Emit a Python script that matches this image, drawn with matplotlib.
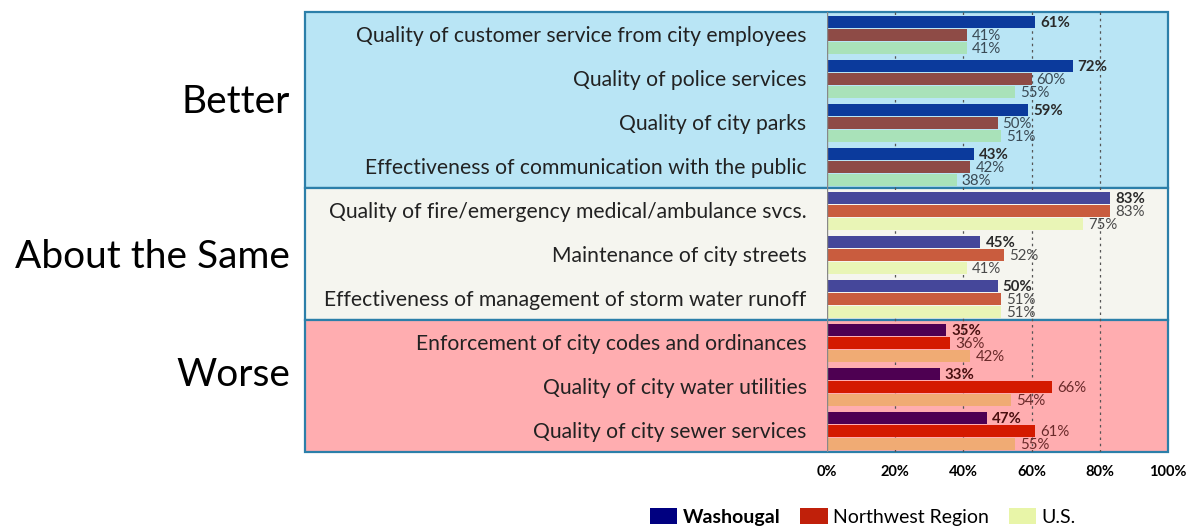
import matplotlib.pyplot as plt
from matplotlib.patches import Rectangle, Patch

plt.rcParams['font.family'] = ['Lato', 'DejaVu Sans']

# data
categories = [
    'Quality of customer service from city employees',
    'Quality of police services',
    'Quality of city parks',
    'Effectiveness of communication with the public',
    'Quality of fire/emergency medical/ambulance svcs.',
    'Maintenance of city streets',
    'Effectiveness of management of storm water runoff',
    'Enforcement of city codes and ordinances',
    'Quality of city water utilities',
    'Quality of city sewer services',
]
washougal = [61, 72, 59, 43, 83, 45, 50, 35, 33, 47]
northwest = [41, 60, 50, 42, 83, 52, 51, 36, 66, 61]
us_vals   = [41, 55, 51, 38, 75, 41, 51, 42, 54, 55]
series_names = ['Washougal', 'Northwest Region', 'U.S.']

group_names = ['Better', 'About the Same', 'Worse']
group_sizes = [4, 3, 3]
group_label_y = [102, 257, 375]   # pixel rows of the big group labels

# colours per group: (background, washougal, northwest, us, label colour)
group_styles = [
    ('#B9E5F5', '#0B3A9C', '#8E4B46', '#A9E2B9', '#3A4A55'),
    ('#F5F5EF', '#45479A', '#C95C3E', '#E9F5B6', '#4A4A4A'),
    ('#FFADB0', '#4E0052', '#D41A00', '#F0AB74', '#6A2A2A'),
]
legend_colors = ['#000080', '#C0200A', '#E8F5A8']

W, H = 1186, 527
fig = plt.figure(figsize=(W / 100, H / 100), dpi=100)

x0, x1 = 827, 1168
y_top, y_bot = 12, 452
ax = fig.add_axes([x0 / W, 1 - y_bot / H, (x1 - x0) / W, (y_bot - y_top) / H])
ax.set_facecolor('none')
ax.set_zorder(2)
n = len(categories)
ax.set_xlim(0, 100)
ax.set_ylim(n, 0)

# panel backgrounds and frames (in figure pixel coords)
panel_left = 305
row = 0
for g, size in enumerate(group_sizes):
    bg = group_styles[g][0]
    top = y_top + row * (y_bot - y_top) / n
    bot = y_top + (row + size) * (y_bot - y_top) / n
    rect = Rectangle((panel_left / W, 1 - bot / H), (x1 - panel_left) / W, (bot - top) / H,
                     transform=fig.transFigure, facecolor=bg, edgecolor='#2C7FA9',
                     linewidth=1.6, zorder=-1)
    fig.patches.append(rect)
    fig.text(290 / W, 1 - group_label_y[g] / H, group_names[g], ha='right', va='center',
             fontsize=28, color='black')
    row += size

# gridlines
for gx in [20, 40, 60, 80]:
    ax.axvline(gx, color='#555555', linestyle=(0, (2, 3)), linewidth=0.9, zorder=1)
ax.axvline(0, color='#888888', linewidth=1.0, zorder=3)

bar_h = 0.27
offsets = [0.225, 0.52, 0.815]
row = 0
for g, size in enumerate(group_sizes):
    bg, c1, c2, c3, tc = group_styles[g]
    for i in range(row, row + size):
        vals = [washougal[i], northwest[i], us_vals[i]]
        for k, (v, c) in enumerate(zip(vals, [c1, c2, c3])):
            yc = i + offsets[k]
            ax.barh(yc, v, height=bar_h, color=c, zorder=2)
            if k == 0:
                lc = '#2A2A2A' if g < 2 else '#4A1010'
            else:
                lc = tc
            ax.text(v + 1.5, yc + 0.03, f'{v}%', ha='left', va='center',
                    fontsize=10.8, color=lc,
                    fontweight='bold' if k == 0 else 'normal', zorder=4)
        ax.text(-6, i + 0.55, categories[i], ha='right', va='center', fontsize=15.2,
                color='#222222', clip_on=False)
    row += size

ax.set_yticks([])
ax.set_xticks([0, 20, 40, 60, 80, 100])
ax.set_xticklabels(['0%', '20%', '40%', '60%', '80%', '100%'], fontweight='bold', fontsize=10.5)
ax.tick_params(axis='x', length=0, pad=9)
for s in ax.spines.values():
    s.set_visible(False)

handles = [Patch(facecolor=c, edgecolor='none') for c in legend_colors]
leg = fig.legend(handles, series_names, loc='center', bbox_to_anchor=(863 / W, 1 - 517 / H),
                 ncol=3, frameon=False, fontsize=14, handlelength=1.4, handleheight=0.9,
                 handletextpad=0.3, columnspacing=1.0)
leg.get_texts()[0].set_fontweight('bold')

fig.savefig('out.png', dpi=100)
